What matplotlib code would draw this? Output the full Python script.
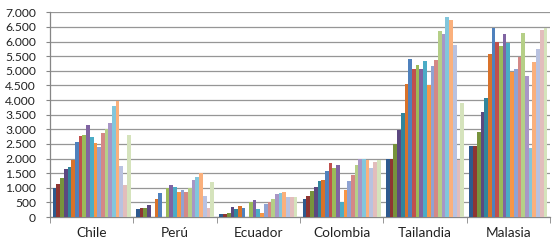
import matplotlib
matplotlib.use("Agg")
import matplotlib.pyplot as plt
import numpy as np
from matplotlib.ticker import FuncFormatter

categories = ["Chile", "Perú", "Ecuador", "Colombia", "Tailandia", "Malasia"]

# 21 series (values per category)
chile     = [1000, 1120, 1340, 1640, 1700, 1940, 2580, 2770, 2810, 3130, 2750, 2540, 2410, 2870, 3020, 3220, 3810, 3980, 1730, 1080, 2790]
peru      = [260, 305, 295, 420, 0, 615, 820, 0, 1000, 1090, 1010, 865, 920, 840, 1000, 1270, 1375, 1520, 715, 305, 1180]
ecuador   = [100, 115, 150, 350, 260, 375, 320, 0, 500, 570, 275, 125, 445, 500, 605, 775, 810, 855, 695, 695, 690]
colombia  = [615, 705, 900, 1010, 1240, 1250, 1580, 1845, 1685, 1785, 510, 920, 1220, 1445, 1765, 1980, 1980, 1945, 1685, 1890, 1945]
tailandia = [1980, 1980, 2480, 2970, 3550, 4560, 5395, 5065, 5190, 5055, 5340, 4510, 5155, 5370, 6350, 6260, 6840, 6750, 5875, 1960, 3900]
malasia   = [2435, 2435, 2890, 3595, 4065, 5590, 6465, 5975, 5850, 6250, 5950, 4960, 5075, 5465, 6305, 4815, 2365, 5315, 5750, 6385, 6455]

yticks = list(range(0, 7001, 500))

colors = ["#2E5A8E", "#8E3532", "#77933C", "#5C4880", "#31859C", "#D9722A",
          "#4F81BD", "#C0504D", "#9BBB59", "#8064A2", "#4BACC6", "#F79646",
          "#8FA3D3", "#D48886", "#B5CF87", "#A896C6", "#82C6DC", "#FAB07C",
          "#B9C2E0", "#E2BDBC", "#D5E3BC"]

data = np.array([chile, peru, ecuador, colombia, tailandia, malasia])  # (cat, series)
n_cat, n_ser = data.shape

plt.rcParams['font.family'] = ['Lato', 'DejaVu Sans']

fig = plt.figure(figsize=(5.6, 2.48), dpi=100)
ax = fig.add_axes([50/560, 1-217/248, 500/560, (217-12.3)/248])

group_w = 0.935
bw = group_w / n_ser
x = np.arange(n_cat)
for s in range(n_ser):
    ax.bar(x - group_w/2 + bw*(s+0.5), data[:, s], width=bw, color=colors[s],
           edgecolor='none', linewidth=0, zorder=3)

ax.set_xlim(-0.5, n_cat - 0.5)
ax.set_ylim(0, 7000)
ax.set_yticks(yticks)
ax.yaxis.set_major_formatter(FuncFormatter(lambda v, p: f"{int(v):,}".replace(",", ".")))
ax.grid(axis='y', color='#969696', linewidth=0.9, zorder=0)
ax.set_axisbelow(True)

ax.set_xticks(x)
ax.set_xticklabels(categories)
ax.set_xticks(np.arange(-0.5, n_cat, 1.0), minor=True)
ax.tick_params(axis='x', which='major', length=0, pad=7, labelsize=9.8, colors='#222222')
ax.tick_params(axis='x', which='minor', length=4, color='#868686', direction='out')
ax.tick_params(axis='y', length=3, labelsize=8.7, pad=7, colors='#868686', labelcolor='#222222')

for side in ['top', 'right']:
    ax.spines[side].set_visible(False)
for side in ['left', 'bottom']:
    ax.spines[side].set_color('#868686')
    ax.spines[side].set_linewidth(0.9)

fig.savefig("out.png", dpi=100, facecolor='white')
